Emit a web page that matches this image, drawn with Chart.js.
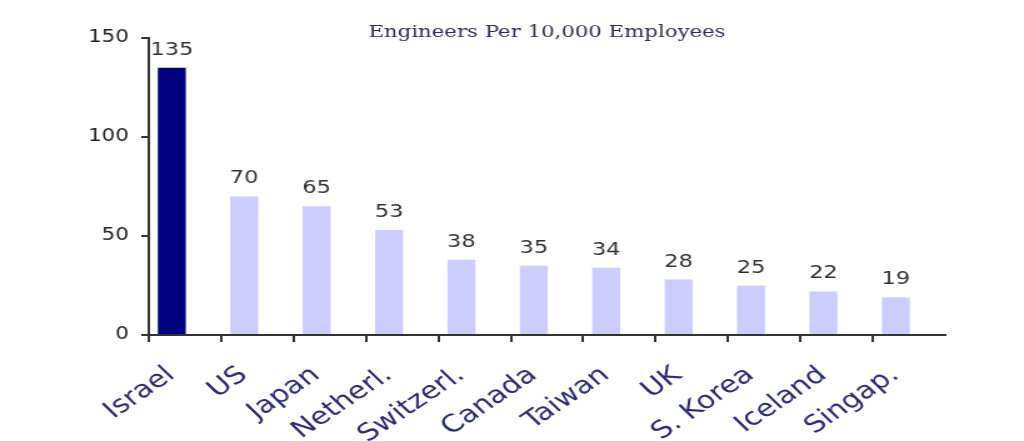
<!DOCTYPE html>
<html>
<head>
<meta charset="utf-8">
<script src="https://cdn.jsdelivr.net/npm/chart.js@4.4.1/dist/chart.umd.min.js"></script>
<style>
  html, body { margin: 0; padding: 0; background: #fff; }
  #chart { display: block; }
</style>
</head>
<body>
<!-- the source picture is stretched sideways, so the canvas is drawn narrow and widened by its style -->
<canvas id="chart" width="819" height="441" style="width:1024px;height:441px"></canvas>
<script>
const countries = ['Israel', 'US', 'Japan', 'Netherl.', 'Switzerl.', 'Canada', 'Taiwan', 'UK', 'S. Korea', 'Iceland', 'Singap.'];
const engineers = [135, 70, 65, 53, 38, 35, 34, 28, 25, 22, 19];
const yTicks = [0, 50, 100, 150];
const chartTitle = 'Engineers Per 10,000 Employees';

const barColors = countries.map((c, i) => (i === 0 ? '#000080' : '#ccccff'));

const titlePlugin = {
  id: 'topTitle',
  afterDraw(chart) {
    const { ctx, chartArea } = chart;
    ctx.save();
    ctx.font = '17px "DejaVu Serif"';
    ctx.fillStyle = '#2e2e5e';
    ctx.textAlign = 'center';
    ctx.textBaseline = 'alphabetic';
    ctx.fillText(chartTitle, (chartArea.left + chartArea.right) / 2, 37);
    ctx.restore();
  },
};

const valueLabels = {
  id: 'valueLabels',
  afterDatasetsDraw(chart) {
    const { ctx } = chart;
    const meta = chart.getDatasetMeta(0);
    ctx.save();
    ctx.font = '18px "DejaVu Sans"';
    ctx.fillStyle = '#333333';
    ctx.textAlign = 'center';
    ctx.textBaseline = 'alphabetic';
    meta.data.forEach((bar, i) => {
      ctx.fillText(String(engineers[i]), bar.x, bar.y - 13);
    });
    ctx.restore();
  },
};

new Chart(document.getElementById('chart'), {
  type: 'bar',
  data: {
    labels: countries,
    datasets: [
      {
        label: 'Engineers',
        data: engineers,
        backgroundColor: barColors,
        borderWidth: 0,
        categoryPercentage: 0.728,
        barPercentage: 1.06,
      },
      {
        // empty slot so the bars sit left of the category centre, as in the source
        label: 'spacer',
        data: [],
        categoryPercentage: 0.728,
        barPercentage: 1.06,
      },
    ],
  },
  options: {
    responsive: false,
    animation: false,
    layout: { padding: { top: 38, right: 63, bottom: 0, left: 0 } },
    plugins: {
      legend: { display: false },
      title: { display: false },
      tooltip: { enabled: false },
    },
    scales: {
      x: {
        offset: true,
        afterFit: (s) => { s.height = 106; },
        border: { display: true, color: '#333333', width: 2 },
        grid: {
          offset: true,
          drawOnChartArea: false,
          drawTicks: true,
          tickLength: 7,
          lineWidth: 2,
          color: (ctx) => (ctx.type === 'tick' ? '#333333' : 'rgba(0,0,0,0)'),
        },
        ticks: {
          autoSkip: false,
          minRotation: 40,
          maxRotation: 40,
          padding: 19,
          labelOffset: -11,
          color: '#2a2a78',
          font: { family: '"DejaVu Sans"', size: 24 },
        },
      },
      y: {
        min: 0,
        max: 150,
        afterFit: (s) => { s.width = 119; },
        afterBuildTicks: (s) => { s.ticks = yTicks.map((v) => ({ value: v })); },
        border: { display: true, color: '#333333', width: 2 },
        grid: {
          drawOnChartArea: false,
          drawTicks: true,
          tickLength: 6,
          lineWidth: 2,
          color: '#333333',
        },
        ticks: {
          padding: 10,
          color: '#222222',
          font: { family: '"DejaVu Sans"', size: 17 },
        },
      },
    },
  },
  plugins: [titlePlugin, valueLabels],
});
</script>
</body>
</html>
